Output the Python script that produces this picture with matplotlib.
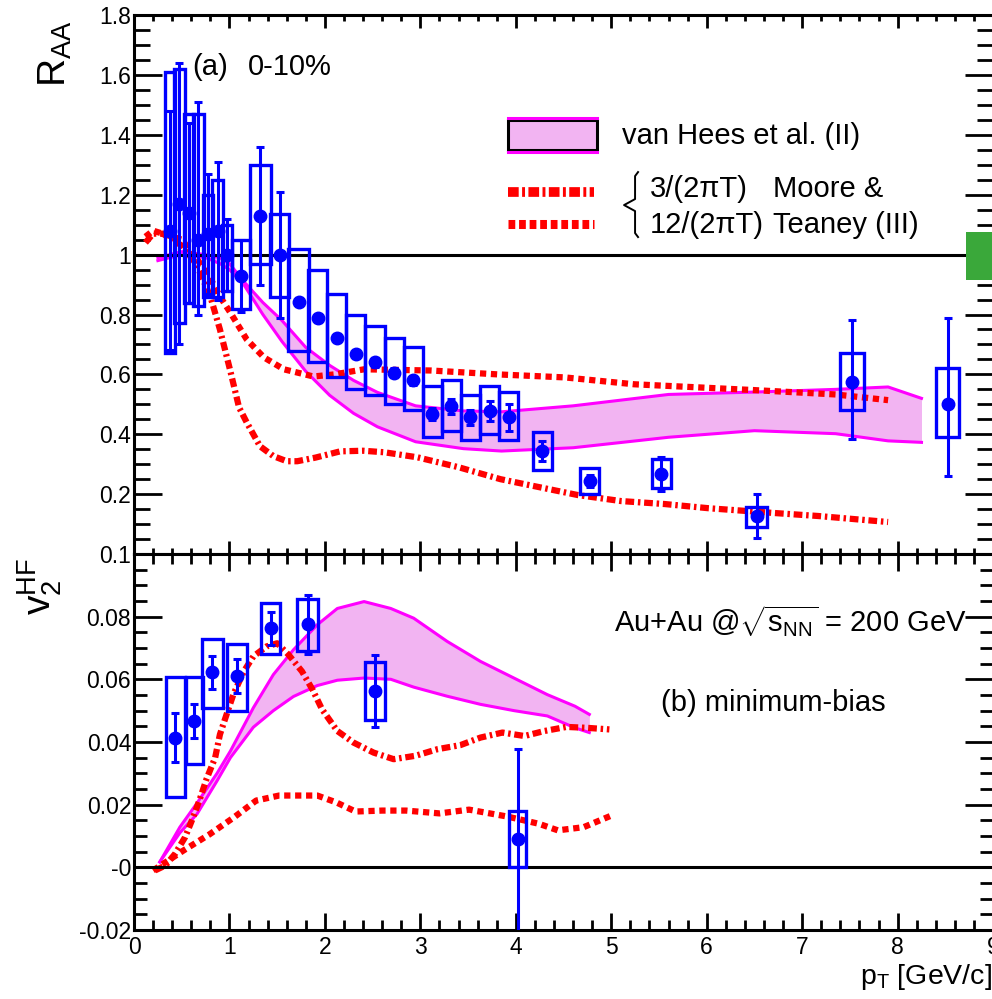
import numpy as np
import matplotlib
matplotlib.use('Agg')
import matplotlib.pyplot as plt
from matplotlib.patches import Rectangle

plt.rcParams['font.family'] = ['Liberation Sans', 'DejaVu Sans']
plt.rcParams['mathtext.fontset'] = 'custom'
plt.rcParams['mathtext.rm'] = 'Liberation Sans'
plt.rcParams['mathtext.it'] = 'Liberation Sans:italic'
plt.rcParams['mathtext.bf'] = 'Liberation Sans:bold'

# ---- R_AA data, 0-10% ----
raa_pt = [0.375, 0.475, 0.575, 0.675, 0.775, 0.875, 0.975, 1.125, 1.325, 1.525,
          1.725, 1.925, 2.125, 2.325, 2.525, 2.725, 2.925, 3.125, 3.325, 3.525,
          3.725, 3.925, 4.275, 4.775, 5.525, 6.525, 7.525, 8.525]
raa = [1.08, 1.17, 1.14, 1.05, 1.07, 1.08, 1.00, 0.93, 1.13, 1.00,
       0.843, 0.787, 0.723, 0.667, 0.64, 0.606, 0.58, 0.467, 0.494, 0.457,
       0.478, 0.457, 0.344, 0.244, 0.267, 0.127, 0.573, 0.50]
raa_stat_lo = [0.40, 0.47, 0.30, 0.25, 0.20, 0.23, 0.12, 0.12, 0.23, 0.21,
               0.012, 0.012, 0.012, 0.012, 0.015, 0.015, 0.015, 0.02, 0.025, 0.025,
               0.033, 0.045, 0.033, 0.02, 0.058, 0.075, 0.19, 0.24]
raa_stat_hi = [0.40, 0.47, 0.30, 0.46, 0.20, 0.23, 0.12, 0.12, 0.23, 0.21,
               0.012, 0.012, 0.012, 0.012, 0.015, 0.015, 0.015, 0.02, 0.025, 0.025,
               0.033, 0.045, 0.033, 0.02, 0.058, 0.075, 0.21, 0.29]
raa_sys_lo = [0.67, 0.77, 0.84, 0.83, 0.86, 0.86, 0.88, 0.82, 0.97, 0.86,
              0.677, 0.64, 0.59, 0.55, 0.53, 0.50, 0.48, 0.39, 0.41, 0.38,
              0.40, 0.38, 0.281, 0.20, 0.22, 0.09, 0.48, 0.39]
raa_sys_hi = [1.61, 1.62, 1.47, 1.47, 1.20, 1.25, 1.10, 1.05, 1.30, 1.137,
              1.02, 0.95, 0.87, 0.80, 0.76, 0.72, 0.69, 0.56, 0.58, 0.53,
              0.56, 0.54, 0.406, 0.287, 0.317, 0.157, 0.673, 0.623]
raa_binw = [0.11, 0.12, 0.11, 0.12, 0.11, 0.12, 0.11, 0.19, 0.22, 0.2,
            0.22, 0.2, 0.2, 0.2, 0.2, 0.2, 0.2, 0.2, 0.2, 0.2,
            0.2, 0.2, 0.2, 0.2, 0.2, 0.22, 0.25, 0.24]

# global normalisation uncertainty on R_AA
norm_x = 8.86
norm_lo = 0.914
norm_hi = 1.077

# ---- van Hees et al. (II) R_AA band ----
vh_pt = [0.25, 0.5, 0.75, 0.9, 1.0, 1.15, 1.35, 1.55, 1.8, 2.05, 2.3, 2.55, 2.95,
         3.45, 3.85, 4.6, 5.6, 6.5, 7.35, 7.9, 8.25]
vh_raa_hi = [0.99, 1.01, 1.0, 0.99, 0.97, 0.91, 0.84, 0.78, 0.69, 0.63, 0.58, 0.54, 0.495,
             0.478, 0.475, 0.495, 0.533, 0.541, 0.55, 0.558, 0.52]
vh_raa_lo = [0.98, 1.0, 0.99, 0.97, 0.95, 0.90, 0.80, 0.71, 0.61, 0.53, 0.47, 0.425, 0.375,
             0.352, 0.344, 0.355, 0.39, 0.412, 0.402, 0.378, 0.373]

# ---- Moore & Teaney (III) R_AA ----
mt3_pt = [0.12, 0.2, 0.3, 0.5, 0.65, 0.8, 0.9, 1.01, 1.1, 1.18, 1.32, 1.46, 1.6, 1.71,
          1.9, 2.16, 2.4, 2.62, 2.97, 3.4, 3.84, 4.19, 4.65, 5.1, 5.56, 6.02, 6.71,
          7.17, 7.9]
mt3_raa = [1.04, 1.07, 1.07, 1.03, 0.97, 0.86, 0.75, 0.61, 0.49, 0.44, 0.36, 0.327, 0.31,
           0.31, 0.322, 0.343, 0.345, 0.34, 0.323, 0.29, 0.25, 0.227, 0.197, 0.177,
           0.167, 0.153, 0.137, 0.127, 0.107]
mt12_pt = [0.12, 0.2, 0.3, 0.5, 0.65, 0.8, 0.9, 1.01, 1.18, 1.36, 1.57, 1.88, 2.1, 2.41,
           3.11, 3.81, 4.51, 5.24, 6.47, 7.35, 7.9]
mt12_raa = [1.06, 1.08, 1.07, 1.05, 0.99, 0.92, 0.86, 0.806, 0.717, 0.657, 0.617, 0.593,
            0.60, 0.617, 0.613, 0.60, 0.59, 0.567, 0.548, 0.533, 0.514]

# ---- v2 data, minimum bias ----
v2_pt = [0.43, 0.63, 0.82, 1.08, 1.43, 1.82, 2.52, 4.02]
v2 = [0.0414, 0.0467, 0.0622, 0.061, 0.0763, 0.0776, 0.0562, 0.0091]
v2_stat_lo = [0.0077, 0.0053, 0.0053, 0.0054, 0.0053, 0.0094, 0.0115, 0.035]
v2_stat_hi = [0.0077, 0.0053, 0.0053, 0.0054, 0.0053, 0.0094, 0.0115, 0.0286]
v2_sys_lo = [0.0225, 0.033, 0.0509, 0.0498, 0.068, 0.0689, 0.047, 0.0]
v2_sys_hi = [0.0606, 0.0606, 0.073, 0.0712, 0.0845, 0.0855, 0.0655, 0.0181]
v2_binw = [0.2, 0.175, 0.22, 0.21, 0.2, 0.22, 0.21, 0.18]

# ---- van Hees v2 band ----
vh_v2_pt = [0.27, 0.48, 0.66, 0.87, 1.01, 1.25, 1.46, 1.67, 1.92, 2.13, 2.41, 2.69,
            2.93, 3.28, 3.63, 3.98, 4.33, 4.62, 4.77]
vh_v2_hi = [0.0017, 0.0128, 0.0205, 0.030, 0.0371, 0.0509, 0.0615, 0.0694, 0.0774,
            0.0826, 0.0848, 0.0826, 0.0795, 0.0721, 0.0657, 0.0604, 0.0551, 0.0514, 0.0488]
vh_v2_lo = [0.0017, 0.011, 0.017, 0.0276, 0.035, 0.0447, 0.050, 0.0545, 0.058,
            0.0597, 0.0604, 0.060, 0.0575, 0.0546, 0.052, 0.050, 0.0483, 0.0445, 0.043]

# ---- Moore & Teaney v2 ----
mt3_v2_pt = [0.22, 0.33, 0.43, 0.535, 0.62, 0.69, 0.76, 0.85, 0.90, 0.97, 1.04, 1.15,
             1.25, 1.39, 1.5, 1.62, 1.76, 1.87, 1.97, 2.13, 2.30, 2.51, 2.72, 2.95,
             3.18, 3.42, 3.63, 3.86, 4.09, 4.30, 4.53, 4.75, 4.98]
mt3_v2 = [-0.001, 0.0006, 0.0043, 0.0096, 0.016, 0.0218, 0.0282, 0.035, 0.0424, 0.0488,
          0.0551, 0.0625, 0.0673, 0.0705, 0.0715, 0.0678, 0.0625, 0.0567, 0.0504, 0.0435,
          0.0398, 0.0366, 0.0345, 0.0356, 0.0377, 0.039, 0.0414, 0.043, 0.0419, 0.0435,
          0.0448, 0.0445, 0.044]
mt12_v2_pt = [0.2, 0.35, 0.52, 0.79, 1.05, 1.28, 1.52, 1.92, 2.12, 2.32, 2.6, 2.85, 3.2,
              3.51, 3.91, 4.24, 4.44, 4.71, 5.0]
mt12_v2 = [-0.001, 0.002, 0.0054, 0.0105, 0.016, 0.0213, 0.0229, 0.0229, 0.0207, 0.0178,
           0.0181, 0.0181, 0.0172, 0.0184, 0.0162, 0.0139, 0.0118, 0.0128, 0.0165]

blue = '#0000ff'
red = '#ff0000'
mag = '#ff00ff'
pink = '#f2b4f2'
dashdot = (0, (1.4, 0.6, 0.4, 0.6))
dotted = (0, (1.0, 0.75))

fig = plt.figure(figsize=(9.92, 9.99), dpi=100)
ax1 = fig.add_axes([0.1351, 0.4454, 0.866, 0.5395])
ax2 = fig.add_axes([0.1351, 0.0691, 0.866, 0.3764])


def style(ax, ymaj, ymin, xmaj, xmin):
    for s in ax.spines.values():
        s.set_linewidth(2.2)
    ax.tick_params(which='both', direction='in', top=True, right=True, width=2.0,
                   labelsize=16.5)
    ax.tick_params(axis='y', which='major', length=ymaj, pad=2)
    ax.tick_params(axis='y', which='minor', length=ymin)
    ax.tick_params(axis='x', which='major', length=xmaj, pad=4)
    ax.tick_params(axis='x', which='minor', length=xmin)


# ---------------- top panel ----------------
ax1.fill_between(vh_pt, vh_raa_lo, vh_raa_hi, color=pink, lw=0, zorder=1)
ax1.plot(vh_pt, vh_raa_hi, color=mag, lw=2.2, zorder=2)
ax1.plot(vh_pt, vh_raa_lo, color=mag, lw=2.2, zorder=2)
ax1.plot(mt3_pt, mt3_raa, color=red, lw=4.5, ls=dashdot, dash_capstyle='butt', zorder=3)
ax1.plot(mt12_pt, mt12_raa, color=red, lw=4.5, ls=dotted, dash_capstyle='butt', zorder=3)
ax1.axhline(1, color='black', lw=2.2, zorder=4)

raa_lo_arr = np.array(raa_sys_lo)
raa_hi_arr = np.array(raa_sys_hi)
ax1.bar(raa_pt, raa_hi_arr - raa_lo_arr, bottom=raa_lo_arr, width=raa_binw, fill=False,
        edgecolor=blue, linewidth=2.4, zorder=5)
ax1.errorbar(raa_pt, raa, yerr=[raa_stat_lo, raa_stat_hi], fmt='o', color=blue, ms=9,
             elinewidth=2.2, capsize=3, capthick=2.2, zorder=6)
ax1.bar([norm_x], [norm_hi - norm_lo], bottom=[norm_lo], width=0.28, color='#3aa83a',
        lw=0, zorder=5)

ax1.set_xlim(0, 9)
ax1.set_ylim(0, 1.8)
ax1.set_yticks(np.arange(0, 1.81, 0.2))
ax1.set_yticklabels(['', '0.2', '0.4', '0.6', '0.8', '1', '1.2', '1.4', '1.6', '1.8'])
ax1.set_yticks(np.arange(0, 1.81, 0.05), minor=True)
ax1.set_xticks(np.arange(0, 10, 1))
ax1.set_xticks(np.arange(0, 9.01, 0.2), minor=True)
ax1.set_xticklabels([])
style(ax1, 20, 11.5, 9.4, 4.5)


def pa(px, py):
    # pixel position -> top axes fraction
    return (px - 134) / 859.0, (554 - py) / 539.0


# legend, drawn by hand as in the original
x0, yb = pa(508, 150)
x1, yt = pa(597, 120)
ax1.add_patch(Rectangle((x0, yb), x1 - x0, yt - yb, transform=ax1.transAxes,
                        facecolor=pink, edgecolor='black', lw=2.2, zorder=7))
for py in (118, 152):
    _, yy = pa(0, py)
    ax1.plot([x0, x1], [yy, yy], color=mag, lw=2.2, transform=ax1.transAxes, zorder=8)
lx0, ly1 = pa(508, 192)
lx1, ly2 = pa(594, 224)
ax1.plot([lx0, lx1], [ly1, ly1], color=red, lw=7, ls=(0, (1.1, 0.35, 0.3, 0.35)),
         dash_capstyle='butt', transform=ax1.transAxes)
ax1.plot([lx0, lx1], [ly2, ly2], color=red, lw=6.5, ls=(0, (0.75, 0.42)),
         dash_capstyle='butt', transform=ax1.transAxes)
brace = [pa(638, 172), pa(635, 176), pa(635, 199), pa(624, 205), pa(635, 211),
         pa(635, 233), pa(638, 237)]
ax1.plot([b[0] for b in brace], [b[1] for b in brace], color='black', lw=1.4,
         transform=ax1.transAxes)

fs = 21
ax1.text(*pa(622, 136), 'van Hees et al. (II)', fontsize=fs, va='center',
         transform=ax1.transAxes)
ax1.text(*pa(650, 189), '3/(2\u03c0T)', fontsize=fs, va='center', transform=ax1.transAxes)
ax1.text(*pa(650, 225), '12/(2\u03c0T)', fontsize=fs, va='center', transform=ax1.transAxes)
ax1.text(*pa(773, 189), 'Moore &', fontsize=fs, va='center', transform=ax1.transAxes)
ax1.text(*pa(773, 225), 'Teaney (III)', fontsize=fs, va='center', transform=ax1.transAxes)
ax1.text(*pa(192, 67), '(a)', fontsize=fs, va='center', transform=ax1.transAxes)
ax1.text(*pa(248, 67), '0-10%', fontsize=fs, va='center', transform=ax1.transAxes)

# ---------------- bottom panel ----------------
ax2.fill_between(vh_v2_pt, vh_v2_lo, vh_v2_hi, color=pink, lw=0, zorder=1)
ax2.plot(vh_v2_pt, vh_v2_hi, color=mag, lw=2.2, zorder=2)
ax2.plot(vh_v2_pt, vh_v2_lo, color=mag, lw=2.2, zorder=2)
ax2.plot(mt3_v2_pt, mt3_v2, color=red, lw=4.5, ls=dashdot, dash_capstyle='butt', zorder=3)
ax2.plot(mt12_v2_pt, mt12_v2, color=red, lw=4.5, ls=dotted, dash_capstyle='butt', zorder=3)
ax2.axhline(0, color='black', lw=2.2, zorder=4)

v2_lo_arr = np.array(v2_sys_lo)
v2_hi_arr = np.array(v2_sys_hi)
ax2.bar(v2_pt, v2_hi_arr - v2_lo_arr, bottom=v2_lo_arr, width=v2_binw, fill=False,
        edgecolor=blue, linewidth=2.4, zorder=5)
ax2.errorbar(v2_pt, v2, yerr=[v2_stat_lo, v2_stat_hi], fmt='o', color=blue, ms=9,
             elinewidth=2.2, capsize=3, capthick=2.2, zorder=6)

ax2.set_xlim(0, 9)
ax2.set_ylim(-0.02, 0.1)
ax2.set_yticks([-0.02, 0, 0.02, 0.04, 0.06, 0.08, 0.1])
ax2.set_yticklabels(['-0.02', '-0', '0.02', '0.04', '0.06', '0.08', '0.1'])
ax2.set_yticks(np.arange(-0.02, 0.1001, 0.005), minor=True)
ax2.set_xticks(np.arange(0, 10, 1))
ax2.set_xticklabels([str(i) for i in range(10)])
ax2.set_xticks(np.arange(0, 9.01, 0.2), minor=True)
style(ax2, 20, 9.4, 12, 7)


def pb(px, py):
    return (px - 134) / 859.0, (930 - py) / 376.0


ax2.text(*pb(614, 621), r'Au+Au @$\sqrt{\mathrm{s}_{\mathrm{NN}}}$ = 200 GeV', fontsize=fs,
         va='center', transform=ax2.transAxes)
ax2.text(*pb(661, 703), '(b) minimum-bias', fontsize=fs, va='center',
         transform=ax2.transAxes)

# axis titles
fig.text(55 / 992, 1 - 20 / 999, r'$\mathrm{R}_{\mathrm{AA}}$', fontsize=28,
         rotation=90, ha='center', va='top')
fig.text(40 / 992, 1 - 558 / 999, r'$\mathrm{v}_{2}^{\mathrm{HF}}$', fontsize=28,
         rotation=90, ha='center', va='top')
fig.text(1.0, 1 - 977 / 999, r'p$_{\mathrm{T}}$ [GeV/c]', fontsize=20.5,
         ha='right', va='center')

fig.savefig('out.png', dpi=100)
